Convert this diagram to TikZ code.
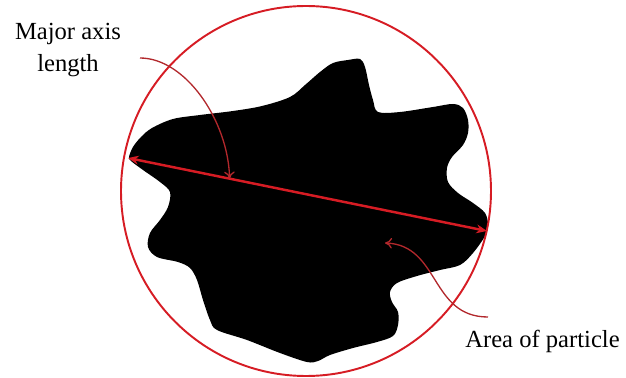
\documentclass[tikz,border=0pt]{standalone}
\usepackage{xcolor}
\usepackage{fontspec}
\setmainfont{Liberation Serif}
\usepackage{tikz}
\usetikzlibrary{arrows.meta,positioning,calc}

\definecolor{ringred}{RGB}{214,28,36}
\definecolor{calloutred}{RGB}{178,40,44}

\tikzset{
  lbl/.style={font=\fontsize{14}{18.7}\selectfont,inner sep=0pt},
  callout/.style={calloutred,line width=0.75pt,-{To[length=4pt,width=6pt]}},
}

\begin{document}
\begin{tikzpicture}[x=0.02cm,y=-0.02cm]
  \useasboundingbox (0,0) rectangle (626,378);
  % particle outline
  \fill[black] plot[smooth cycle,tension=0.55] coordinates {
    (129,157) (133,147) (141,137) (152,128) (173,119) (200,115) (233,111)
    (262,106) (290,97) (305,85) (320,72) (333,63) (348,60) (360,59)
    (365,67) (369,85) (373,100) (378,112) (400,112) (433,107) (453,104)
    (463,108) (468,120) (468,133) (463,145) (452,157) (447,168) (448,182)
    (458,193) (473,203) (485,213) (488,225) (485,236) (473,253) (460,265)
    (440,270) (417,276) (397,283) (390,292) (392,302) (398,312) (398,325)
    (393,336) (377,342) (353,348) (330,355) (318,361) (307,362) (280,353)
    (247,340) (217,330) (210,320) (203,300) (197,280) (190,268) (178,262)
    (157,257) (148,247) (150,233) (160,220) (168,207) (170,192) (160,182)
    (143,170) (131,161)};
  % bounding circle
  \node[draw=ringred,line width=1.1pt,circle,minimum size=370*0.02cm,inner sep=0pt] (ring) at (306,191) {};
  % major axis
  \coordinate (axisL) at (128,158);
  \coordinate (axisR) at (487,231);
  \coordinate (axismid) at ($(axisL)!0.283!(axisR)$);
  \draw[ringred,line width=1.4pt,{Stealth[length=6pt,width=5pt]}-{Stealth[length=6pt,width=5pt]}] (axisL) -- (axisR);
  % labels
  \node[lbl,align=center] (majortext) at (68,50) {Major axis\\length};
  \node[lbl,anchor=base west] (areatext) at (465,348) {Area of particle};
  % callouts
  \coordinate (majorstart) at (140,58);
  \coordinate (areastart) at (488,317);
  \coordinate (areatip) at (385,243);
  \draw[callout] (majorstart) .. controls (185,58) and (228,120) .. (axismid);
  \draw[callout] (areastart) .. controls (430,317) and (440,245) .. (areatip);
\end{tikzpicture}
\end{document}
